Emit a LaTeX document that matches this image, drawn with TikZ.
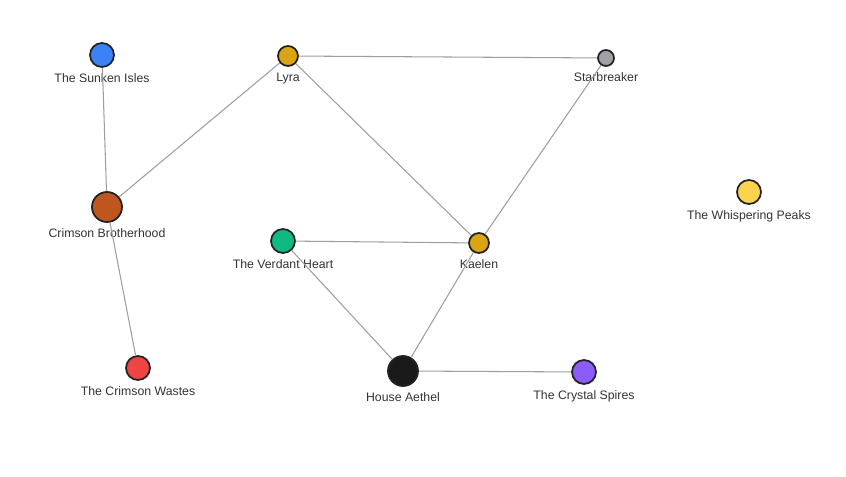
\documentclass[tikz,border=0pt]{standalone}
\usepackage{fontspec}
\setmainfont{Liberation Sans}
\usepackage{xcolor}
\usepackage{tikz}
\usetikzlibrary{positioning}

\definecolor{edgegray}{HTML}{9E9E9E}
\definecolor{ringdark}{HTML}{222222}
\definecolor{labelgray}{HTML}{333333}
\definecolor{isleblue}{HTML}{3B82F6}
\definecolor{lyragold}{HTML}{D9A514}
\definecolor{stargray}{HTML}{A1A1A8}
\definecolor{crimsonbrown}{HTML}{C0561F}
\definecolor{verdantgreen}{HTML}{10B981}
\definecolor{peakyellow}{HTML}{FCD34D}
\definecolor{wastered}{HTML}{EF4444}
\definecolor{aethelblack}{HTML}{1A1A1A}
\definecolor{spirepurple}{HTML}{8B5CF6}

\tikzset{
  faction/.style={circle, draw=ringdark, line width=1pt, inner sep=0pt},
  tag/.style={font=\fontsize{7}{8}\selectfont, text=labelgray, inner sep=0pt,
    text height=1.6ex, text depth=0.4ex, label distance=-0.5pt},
  edge/.style={draw=edgegray, line width=0.6pt}
}

\begin{document}
\begin{tikzpicture}[x=0.02cm, y=0.02cm]
\useasboundingbox (0,0) rectangle (846,477);

% Factions
\foreach \name/\x/\y/\col/\sz/\lbl in {
  isles/102/422/isleblue/0.48/The Sunken Isles,
  lyra/288/421/lyragold/0.40/Lyra,
  star/606/419/stargray/0.32/Starbreaker,
  brotherhood/107/270/crimsonbrown/0.60/Crimson Brotherhood,
  verdant/283/236/verdantgreen/0.48/The Verdant Heart,
  kaelen/479/234/lyragold/0.40/Kaelen,
  peaks/749/285/peakyellow/0.48/The Whispering Peaks,
  wastes/138/109/wastered/0.48/The Crimson Wastes,
  aethel/403/106/aethelblack/0.60/House Aethel,
  spires/584/105/spirepurple/0.48/The Crystal Spires}{
  \node[faction, fill=\col, minimum size=\sz cm,
    label={[tag]below:\lbl}] (\name) at (\x,\y) {};
}

% Relations
\foreach \a/\b in {isles/brotherhood, brotherhood/lyra, brotherhood/wastes,
  lyra/star, lyra/kaelen, star/kaelen, verdant/kaelen, verdant/aethel,
  kaelen/aethel, aethel/spires}{
  \draw[edge] (\a) -- (\b);
}
\end{tikzpicture}
\end{document}
